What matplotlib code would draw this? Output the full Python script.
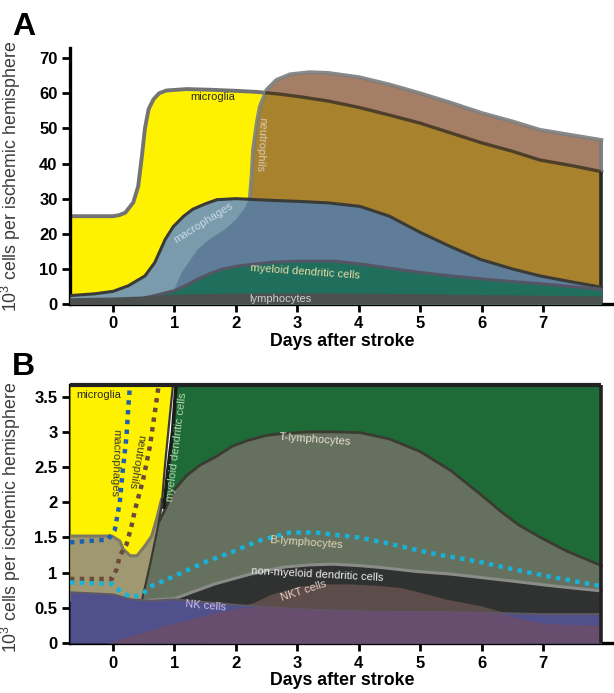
import numpy as np
import matplotlib.pyplot as plt
from matplotlib.ticker import FuncFormatter

plt.rcParams['font.family'] = ['Liberation Sans', 'DejaVu Sans']
plt.rcParams['mathtext.fontset'] = 'custom'
plt.rcParams['mathtext.rm'] = 'Liberation Sans'

X_START = -0.7
X_END = 7.95
DAYS = [0, 1, 2, 3, 4, 5, 6, 7]

# ---------------- panel A (10^3 cells) ----------------
micro_x = [-0.7, 0, 0.1, 0.2, 0.33, 0.41, 0.47, 0.52, 0.58, 0.66, 0.75, 0.87, 1.2, 1.6, 2.0, 2.34,
           2.7, 3.05, 3.5, 4.0, 4.5, 5.0, 5.5, 6.0, 6.5, 6.95, 7.5, 7.95]
micro_y = [25, 25, 25.3, 26, 28.9, 33.5, 42, 50, 55.5, 58.3, 60, 60.8, 61.2, 61, 60.7, 60.4,
           59.8, 59, 57.8, 56, 53.8, 51.5, 48.7, 45.9, 43.5, 41, 39.3, 37.7]

neut_x = [0.95, 1.0, 1.12, 1.38, 1.6, 1.82, 2.0, 2.15, 2.23, 2.26, 2.28, 2.34, 2.39, 2.5, 2.66,
          2.88, 3.2, 3.5, 4.0, 4.5, 5.0, 5.5, 6.0, 6.5, 6.95, 7.5, 7.95]
neut_y = [0, 4.2, 9, 15.6, 18.8, 21.2, 24, 27.5, 30.5, 37.3, 43.9, 51.5, 56.2, 61, 63.8,
          65.4, 66, 65.8, 64.6, 62.5, 60, 57.3, 54.4, 52, 49.6, 48, 46.7]

macro_x = [-0.7, -0.3, 0, 0.25, 0.52, 0.68, 0.85, 0.98, 1.15, 1.3, 1.5, 1.69, 2.0, 2.23, 2.6,
           3.05, 3.5, 4.02, 4.5, 5.0, 5.5, 5.98, 6.5, 6.95, 7.5, 7.95]
macro_y = [2.4, 2.9, 3.6, 5.2, 8.0, 11.8, 18.4, 22, 25, 27, 28.5, 29.7, 30, 29.8, 29.5,
           29.2, 28.8, 27.8, 25, 20.4, 16.3, 12.7, 10, 8, 6.2, 4.8]

mdc_x = [0.45, 0.68, 1.0, 1.2, 1.38, 1.57, 1.77, 2.0, 2.26, 2.6, 3.0, 3.6, 4.07, 4.5, 5.0, 5.5,
         6.03, 6.5, 7.0, 7.5, 7.95]
mdc_y = [1.5, 2.4, 3.8, 5.4, 7.1, 8.6, 9.9, 10.7, 11.3, 11.9, 12.2, 12.2, 11.3, 10.2, 9.0, 8.0,
         7.1, 6.4, 5.7, 4.9, 4.2]

lymph_x = [-0.7, 0, 0.5, 1.0, 2, 3, 4, 5, 6, 7, 7.95]
lymph_y = [1.8, 2.0, 2.3, 2.8, 3.1, 3.2, 3.1, 2.9, 2.7, 2.5, 2.3]

# ---------------- panel B (10^3 cells) ----------------
green_y = [1.5, 1.93, 2.5, 3.0, 3.7]
green_x = [0.76, 0.83, 0.9, 0.97, 1.03]

tcell_x = [0.45, 0.55, 0.65, 0.71, 0.82, 1.0, 1.2, 1.42, 1.66, 1.95, 2.2, 2.5, 2.8, 3.2, 3.6,
           4.02, 4.5, 5.0, 5.5, 6.0, 6.3, 6.6, 7.0, 7.4, 7.95]
tcell_y = [0.6, 1.0, 1.45, 1.66, 1.85, 2.18, 2.38, 2.53, 2.64, 2.8, 2.88, 2.95, 2.98, 3.0, 3.0,
           2.99, 2.9, 2.72, 2.45, 2.1, 1.88, 1.68, 1.48, 1.3, 1.1]

yellow_y = [0.6, 1.1, 1.6, 1.94, 2.56, 3.27, 3.7]
yellow_x = [0.47, 0.6, 0.72, 0.79, 0.85, 0.93, 0.98]

khaki_x = [-0.7, -0.02, 0.11, 0.17, 0.28, 0.39, 0.52, 0.63, 0.71, 0.79]
khaki_y = [1.52, 1.52, 1.45, 1.33, 1.24, 1.24, 1.38, 1.52, 1.76, 2.04]

nmdc_x = [0.45, 1.0, 1.28, 1.66, 2.2, 2.5, 2.8, 3.2, 3.58, 4.0, 4.4, 4.9, 5.49, 5.99, 6.5,
          7.07, 7.5, 7.95]
nmdc_y = [0.6, 0.63, 0.72, 0.84, 0.97, 1.03, 1.08, 1.11, 1.12, 1.1, 1.07, 1.02, 0.98, 0.93,
          0.88, 0.82, 0.78, 0.74]

nkt_x = [1.5, 2.0, 2.3, 2.56, 3.05, 3.5, 3.86, 4.3, 4.67, 5.0, 5.44, 5.99, 6.31, 6.6]
nkt_y = [0.45, 0.5, 0.58, 0.69, 0.81, 0.84, 0.84, 0.82, 0.79, 0.72, 0.62, 0.53, 0.45, 0.42]

nk_x = [-0.7, 0, 0.3, 0.63, 1.0, 1.5, 2.15, 2.5, 3, 4, 5, 6, 7, 7.95]
nk_y = [0.72, 0.69, 0.62, 0.6, 0.62, 0.58, 0.53, 0.51, 0.48, 0.45, 0.44, 0.43, 0.41, 0.41]

purple_x = [-0.1, 0.4, 0.85, 1.3, 1.66, 2.1, 2.5, 3.0, 4.0, 5.0, 6.0, 6.3, 6.7, 7.07, 7.5, 7.95]
purple_y = [0, 0.13, 0.25, 0.35, 0.43, 0.5, 0.52, 0.49, 0.46, 0.45, 0.44, 0.42, 0.33, 0.28,
            0.26, 0.25]

mac_dot_x = [-0.7, -0.08, 0.03, 0.11, 0.16, 0.22, 0.25, 0.28]
mac_dot_y = [1.43, 1.47, 1.61, 2.0, 2.46, 2.94, 3.36, 3.7]

neu_dot_x = [-0.7, -0.02, 0.06, 0.11, 0.22, 0.3, 0.36, 0.49, 0.6, 0.68, 0.75]
neu_dot_y = [0.91, 0.91, 1.05, 1.24, 1.4, 1.66, 1.9, 2.32, 2.79, 3.27, 3.7]

bcell_x = [-0.7, -0.02, 0.14, 0.3, 0.47, 0.63, 1.0, 1.5, 1.93, 2.36, 2.88, 3.3, 3.58, 4.0, 4.4,
           4.9, 5.27, 5.99, 6.5, 7.07, 7.5, 7.94]
bcell_y = [0.86, 0.84, 0.72, 0.65, 0.69, 0.81, 0.95, 1.15, 1.29, 1.45, 1.57, 1.57, 1.54, 1.5,
           1.43, 1.33, 1.26, 1.15, 1.05, 0.95, 0.88, 0.81]


def style_axes(ax, ymax, yticks, label_y=0.5):
    ax.set_xlim(X_START, 8.156)
    ax.set_ylim(0, ymax)
    ax.spines['top'].set_visible(False)
    ax.spines['right'].set_visible(False)
    ax.spines['left'].set_linewidth(2.4)
    ax.spines['bottom'].set_linewidth(2.4)
    ax.set_xticks(DAYS)
    ax.set_yticks(yticks)
    ax.yaxis.set_major_formatter(FuncFormatter(lambda v, _: f'{v:g}'))
    ax.tick_params(length=6, width=2, labelsize=12, pad=3)
    for lab in ax.get_xticklabels() + ax.get_yticklabels():
        lab.set_fontweight('bold')
    ax.set_xlabel('Days after stroke', fontsize=12.8, fontweight='bold', labelpad=1)
    ax.set_ylabel(r'10$^3$ cells per ischemic hemisphere', fontsize=12.8, color='#3a3a3a')
    ax.yaxis.set_label_coords(-0.086, label_y)


fig = plt.figure(figsize=(6.14, 6.93), dpi=100)
axA = fig.add_axes([70 / 614, 1 - 304 / 693, 544 / 614, 256 / 693])
axB = fig.add_axes([70 / 614, 1 - 643 / 693, 544 / 614, 258 / 693])

# ---------- panel A ----------
mg = axA.fill_between(micro_x, 0, micro_y, color='#fff200', lw=0, zorder=1)
mg_path = mg.get_paths()[0]
axA.plot(micro_x, micro_y, color='#737373', lw=2.8, zorder=2)

nt = axA.fill_between(neut_x, 0, neut_y, color='#a57e66', lw=0, zorder=3)
nt_path = nt.get_paths()[0]
gold = axA.fill_between(neut_x, 0, neut_y, color='#a8822d', lw=0, zorder=3.1)
gold.set_clip_path(mg_path, transform=axA.transData)
axA.plot(neut_x, neut_y, color='#7d7d7d', lw=2.8, alpha=0.9, zorder=3.5)
axA.vlines(X_END, micro_y[-1], neut_y[-1], color='#7d7d7d', lw=2.8, zorder=3.5)
ln, = axA.plot(micro_x, micro_y, color='#4e3f2a', lw=2.4, zorder=3.6)
ln.set_clip_path(nt_path, transform=axA.transData)
axA.vlines(X_END, 0, micro_y[-1], color='#2a2a2a', lw=2.6, zorder=3.6)

axA.fill_between(macro_x, 0, macro_y, color='#7a9bac', lw=0, zorder=4)
mdark = axA.fill_between(macro_x, 0, macro_y, color='#5f7d98', lw=0, zorder=4.1)
mdark.set_clip_path(nt_path, transform=axA.transData)
axA.plot(macro_x, macro_y, color='#3a3a36', lw=2.2, zorder=4.5)

axA.fill_between(mdc_x, 0, mdc_y, color='#206e5c', lw=0, zorder=5)
axA.plot(mdc_x, mdc_y, color='#555566', lw=2.2, zorder=5.5)
axA.fill_between(lymph_x, 0, lymph_y, color='#4b504e', lw=0, zorder=6)

lab = dict(fontsize=8, ha='center', va='center', zorder=8)
axA.text(1.63, 58.9, 'microglia', color='#2a2a2a', **lab)
axA.text(2.4, 45.5, 'neutrophils', color='#dccbb4', rotation=-93, **lab)
axA.text(1.47, 23.2, 'macrophages', color='#c9d9e4', rotation=32, **lab)
axA.text(3.13, 9.3, 'myeloid dendritic cells', color='#e6dba6', rotation=-4, **lab)
axA.text(2.72, 1.5, 'lymphocytes', color='#cfcfcf', **lab)
style_axes(axA, 72.9, range(0, 71, 10))

# ---------- panel B ----------
ymaxB = 3.666
green_px = list(green_x) + [X_END, X_END, green_x[0]]
green_py = list(green_y) + [green_y[-1], 0, 0]
axB.fill(green_px, green_py, color='#1e6b38', lw=0, zorder=1)
axB.fill_between(tcell_x, 0, tcell_y, color='#66705f', lw=0, zorder=2)
axB.plot(tcell_x, tcell_y, color='#3a3c30', lw=2, zorder=2.5)

yl = axB.fill_betweenx(yellow_y, X_START, yellow_x, color='#fff200', lw=0, zorder=3)
yl_path = yl.get_paths()[0]
kh = axB.fill_between(khaki_x, 0, khaki_y, color='#a09870', lw=0, zorder=3.2)
kh.set_clip_path(yl_path, transform=axB.transData)
kl, = axB.plot(khaki_x, khaki_y, color='#7e7a62', lw=2.2, zorder=3.3)
kl.set_clip_path(yl_path, transform=axB.transData)
axB.plot(yellow_x, yellow_y, color='#3a3a34', lw=1.6, zorder=3.5)
axB.plot(green_x[1:], green_y[1:], color='#1c1c1a', lw=2.6, zorder=3.6)

axB.fill_between(nmdc_x, 0, nmdc_y, color='#2f3230', lw=0, zorder=4)
axB.plot(nmdc_x, nmdc_y, color='#8a8c88', lw=2.2, zorder=4.5)
axB.fill_between(nkt_x, 0, nkt_y, color='#5c4c4a', lw=0, zorder=5)
axB.fill_between(nk_x, 0, nk_y, color='#50508c', lw=0, zorder=6)
axB.plot(nk_x, nk_y, color='#5e5866', lw=1.5, zorder=6.2)
axB.fill_between(purple_x, 0, purple_y, color='#684e6e', lw=0, zorder=7)

dots = dict(lw=3.2, ls=(0, (1, 1.2)), dash_capstyle='butt', zorder=8)
axB.plot(mac_dot_x, mac_dot_y, color='#1e5fb0', **dots)
axB.plot(neu_dot_x, neu_dot_y, color='#6b4a3a', **dots)
axB.plot(bcell_x, bcell_y, color='#17b2d8', **dots)

axB.hlines(ymaxB, X_START, X_END, color='#222222', lw=3, zorder=9, clip_on=False)
axB.vlines(X_END, 0, ymaxB, color='#222222', lw=2.6, zorder=9)

lab['zorder'] = 10
axB.text(-0.24, 3.53, 'microglia', color='#2a2a2a', **lab)
axB.text(0.04, 2.56, 'macrophages', color='#3a3a2a', rotation=-92, **lab)
axB.text(0.38, 2.58, 'neutrophils', color='#3a3a2a', rotation=-100, **lab)
axB.text(1.04, 2.79, 'myeloid dendritic cells', color='#b3d9aa', rotation=83, **lab)
axB.text(3.29, 2.89, 'T-lymphocytes', color='#e6e2d0', rotation=-4, **lab)
axB.text(3.15, 1.43, 'B-lymphocytes', color='#e0d8b8', rotation=-4, **lab)
axB.text(3.32, 0.98, 'non-myeloid dendritic cells', color='#f0f0f0', rotation=-3, **lab)
axB.text(3.1, 0.74, 'NKT cells', color='#e8ccc4', rotation=18, **lab)
axB.text(1.5, 0.53, 'NK cells', color='#ccbeea', rotation=-5, **lab)
style_axes(axB, ymaxB, [0, 0.5, 1, 1.5, 2, 2.5, 3, 3.5], label_y=0.485)

fig.text(12 / 614, 1 - 35 / 693, 'A', fontsize=23, fontweight='bold', va='baseline')
fig.text(12 / 614, 1 - 375 / 693, 'B', fontsize=23, fontweight='bold', va='baseline')

fig.savefig('out.png', dpi=100)
